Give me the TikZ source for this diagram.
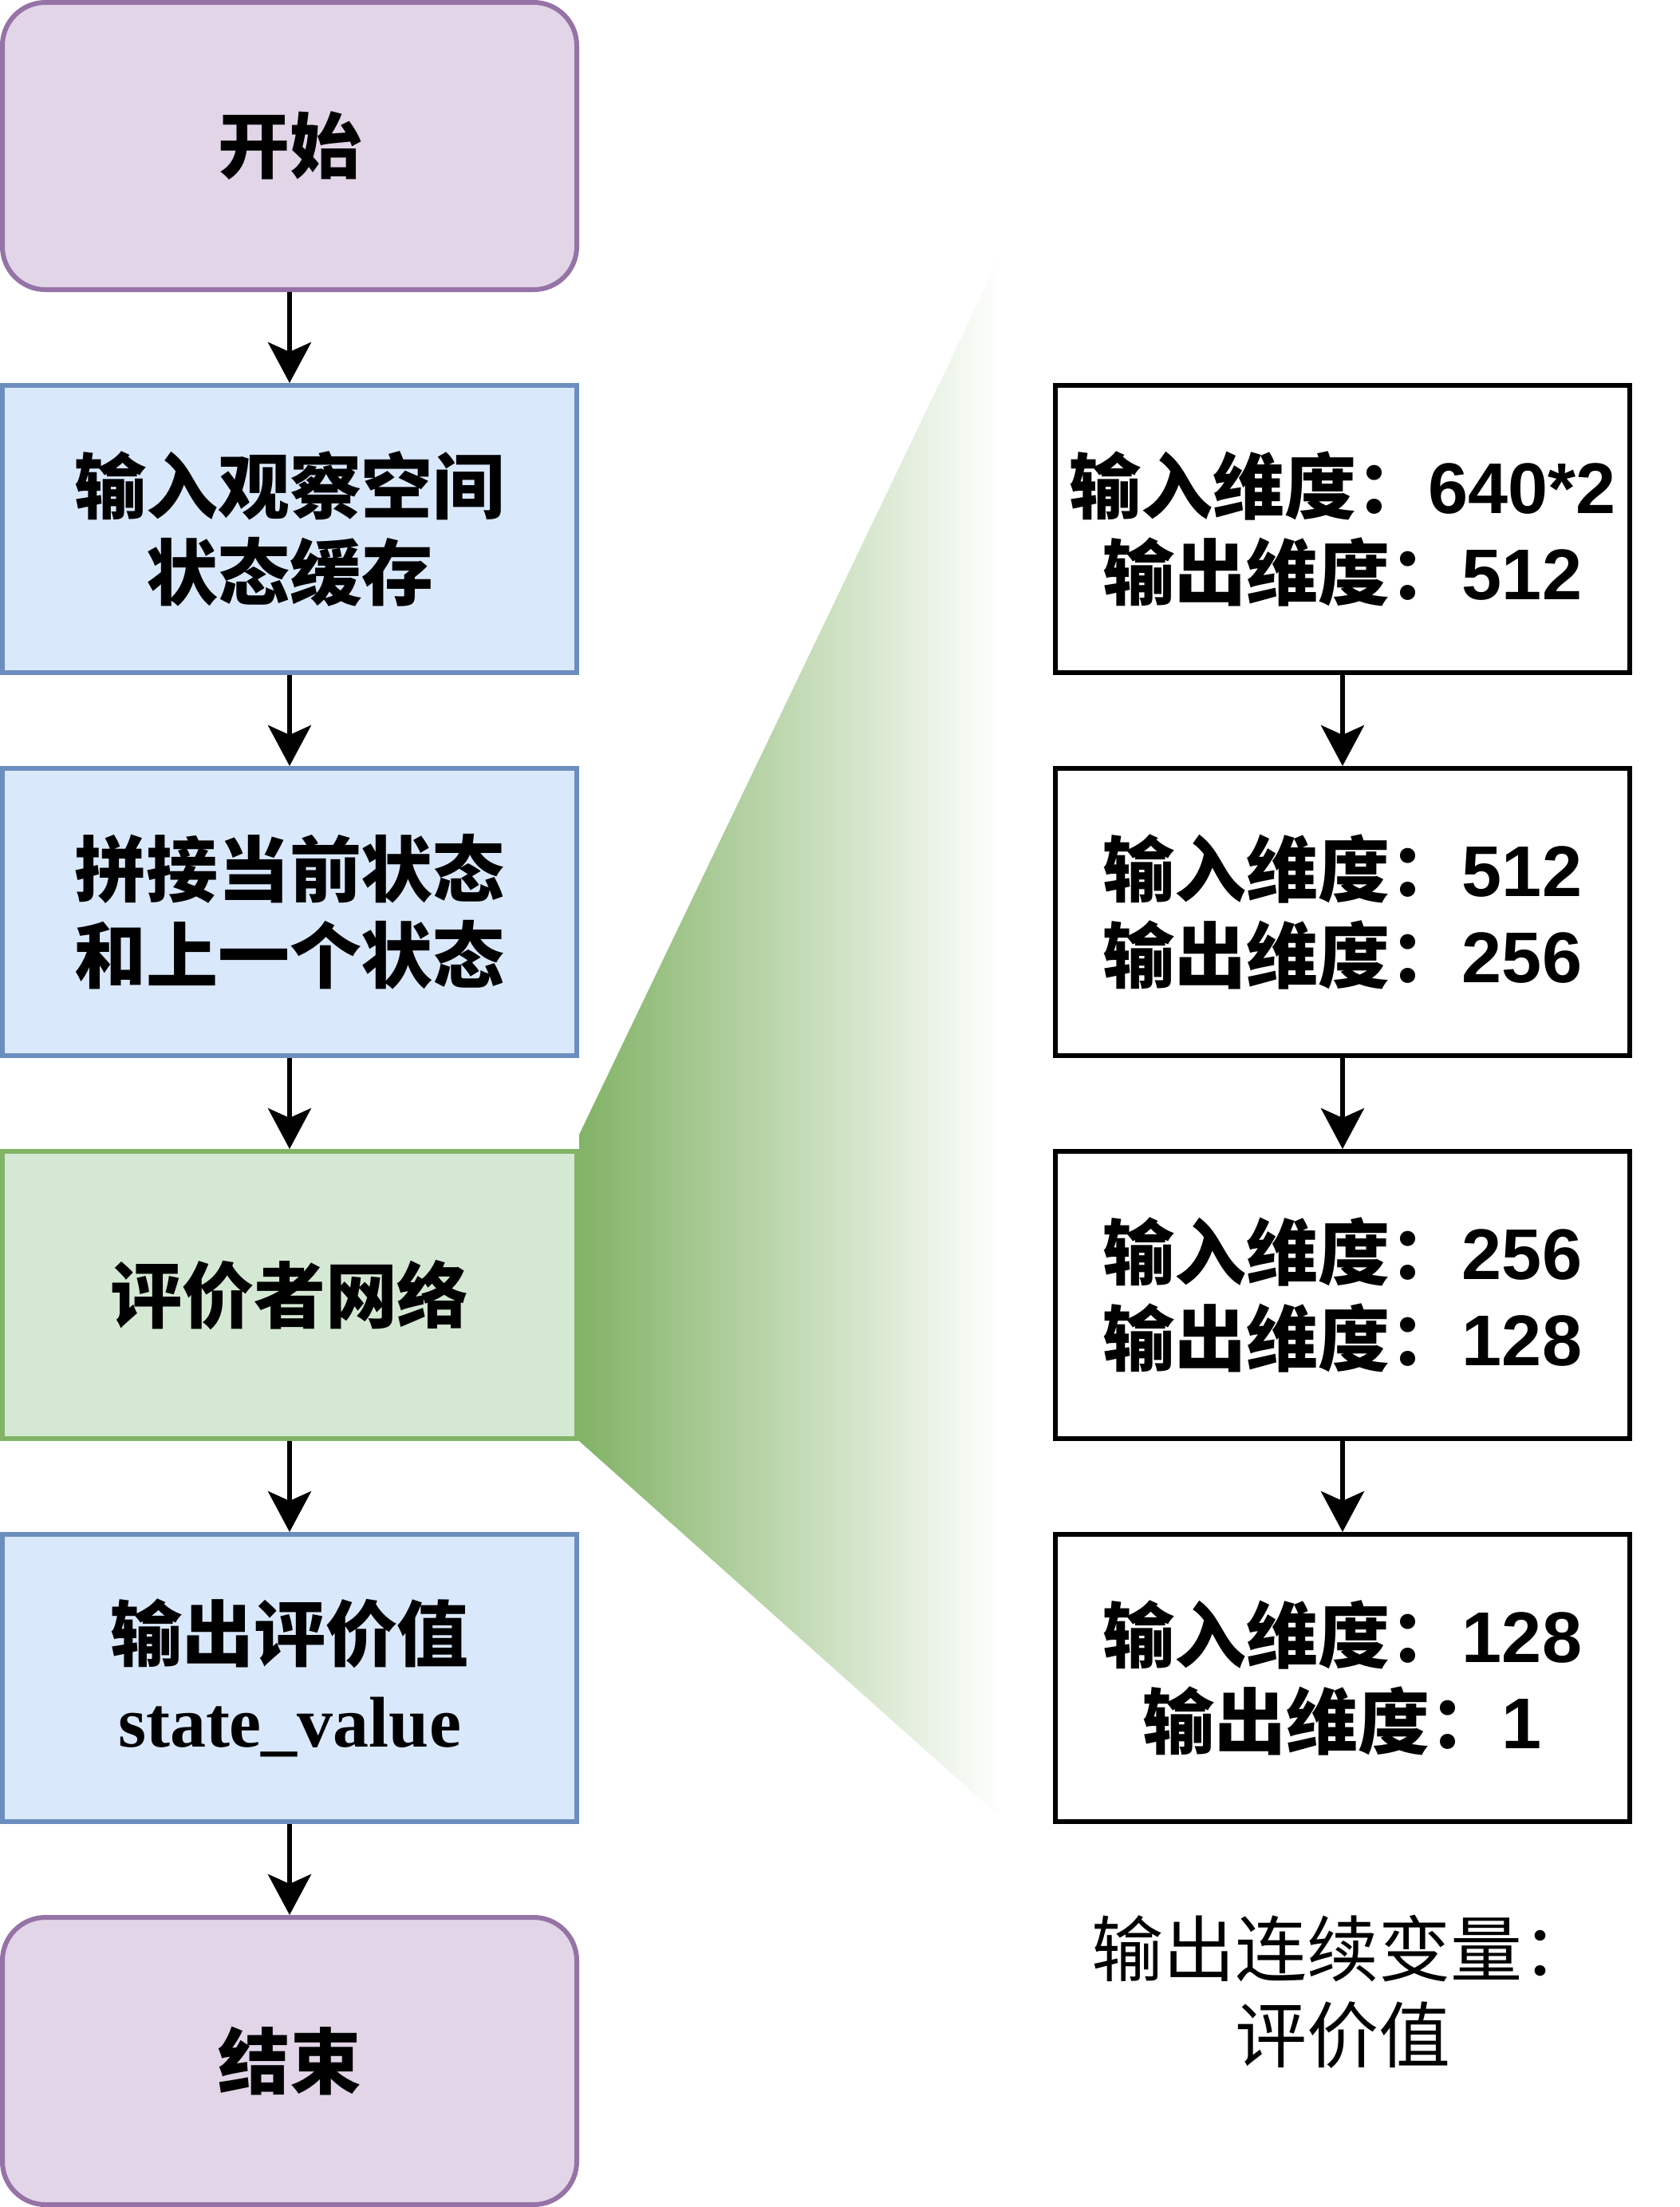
\documentclass[tikz,border=0pt]{standalone}
\usepackage{fontspec}
\setmainfont{Liberation Sans}
\newfontfamily\hei{Noto Sans CJK SC}
\newfontfamily\tnr{Liberation Serif}
\usepackage{tikz}
\usetikzlibrary{positioning,arrows.meta}
\definecolor{termfill}{HTML}{E1D5E7}
\definecolor{termdraw}{HTML}{9673A6}
\definecolor{stagefill}{HTML}{DAE8FC}
\definecolor{stagedraw}{HTML}{6C8EBF}
\definecolor{critfill}{HTML}{D5E8D4}
\definecolor{critdraw}{HTML}{82B366}

\begin{document}
\begin{tikzpicture}[
      node distance=38pt,
      stage/.style={rectangle, draw=stagedraw, fill=stagefill, line width=2pt, minimum width=240pt, minimum height=120pt, inner sep=0pt, align=center, font=\hei\bfseries\fontsize{30pt}{36pt}\selectfont},
      terminal/.style={stage, draw=termdraw, fill=termfill, rounded corners=18pt},
      critbox/.style={stage, draw=critdraw, fill=critfill},
      layer/.style={stage, draw=black, fill=white, font=\bfseries\fontsize{30pt}{36pt}\selectfont},
      flow/.style={line width=2pt, -{Stealth[length=17pt, width=18pt, inset=4pt]}}]
    \useasboundingbox (0pt,0pt) rectangle (702pt,-922pt);
    \node[terminal] (start) at (121pt,-61pt) {开始};
    \node[stage, below=of start] (obs) {输入观察空间\\状态缓存};
    \node[stage, below=of obs] (concat) {拼接当前状态\\和上一个状态};
    \node[critbox, below=of concat] (net) {评价者网络};
    \node[stage, below=of net] (value) {输出评价值\\{\tnr state\_value}};
    \node[terminal, below=of value] (stop) {结束};

    \coordinate (fantop) at (419pt,-105pt);
    \coordinate (fanbot) at (419pt,-760pt);
    \shade[left color=critdraw, right color=white] ([yshift=6pt]net.north east) -- (fantop) -- (fanbot) -- (net.south east) -- cycle;

    \node[layer, right=198pt of obs] (layer1) {{\hei 输入维度：}640*2\\{\hei 输出维度：}512};
    \node[layer, below=of layer1] (layer2) {{\hei 输入维度：}512\\{\hei 输出维度：}256};
    \node[layer, below=of layer2] (layer3) {{\hei 输入维度：}256\\{\hei 输出维度：}128};
    \node[layer, below=of layer3] (layer4) {{\hei 输入维度：}128\\{\hei 输出维度：}1};
    \node[align=center, font=\hei\fontsize{30pt}{36pt}\selectfont] (outnote) at ([yshift=-70pt]layer4.south) {输出连续变量：\\评价值};

    \draw[flow] (start) -- (obs);
    \draw[flow] (obs) -- (concat);
    \draw[flow] (concat) -- (net);
    \draw[flow] (net) -- (value);
    \draw[flow] (value) -- (stop);
    \draw[flow] (layer1) -- (layer2);
    \draw[flow] (layer2) -- (layer3);
    \draw[flow] (layer3) -- (layer4);
  \end{tikzpicture}
\end{document}
